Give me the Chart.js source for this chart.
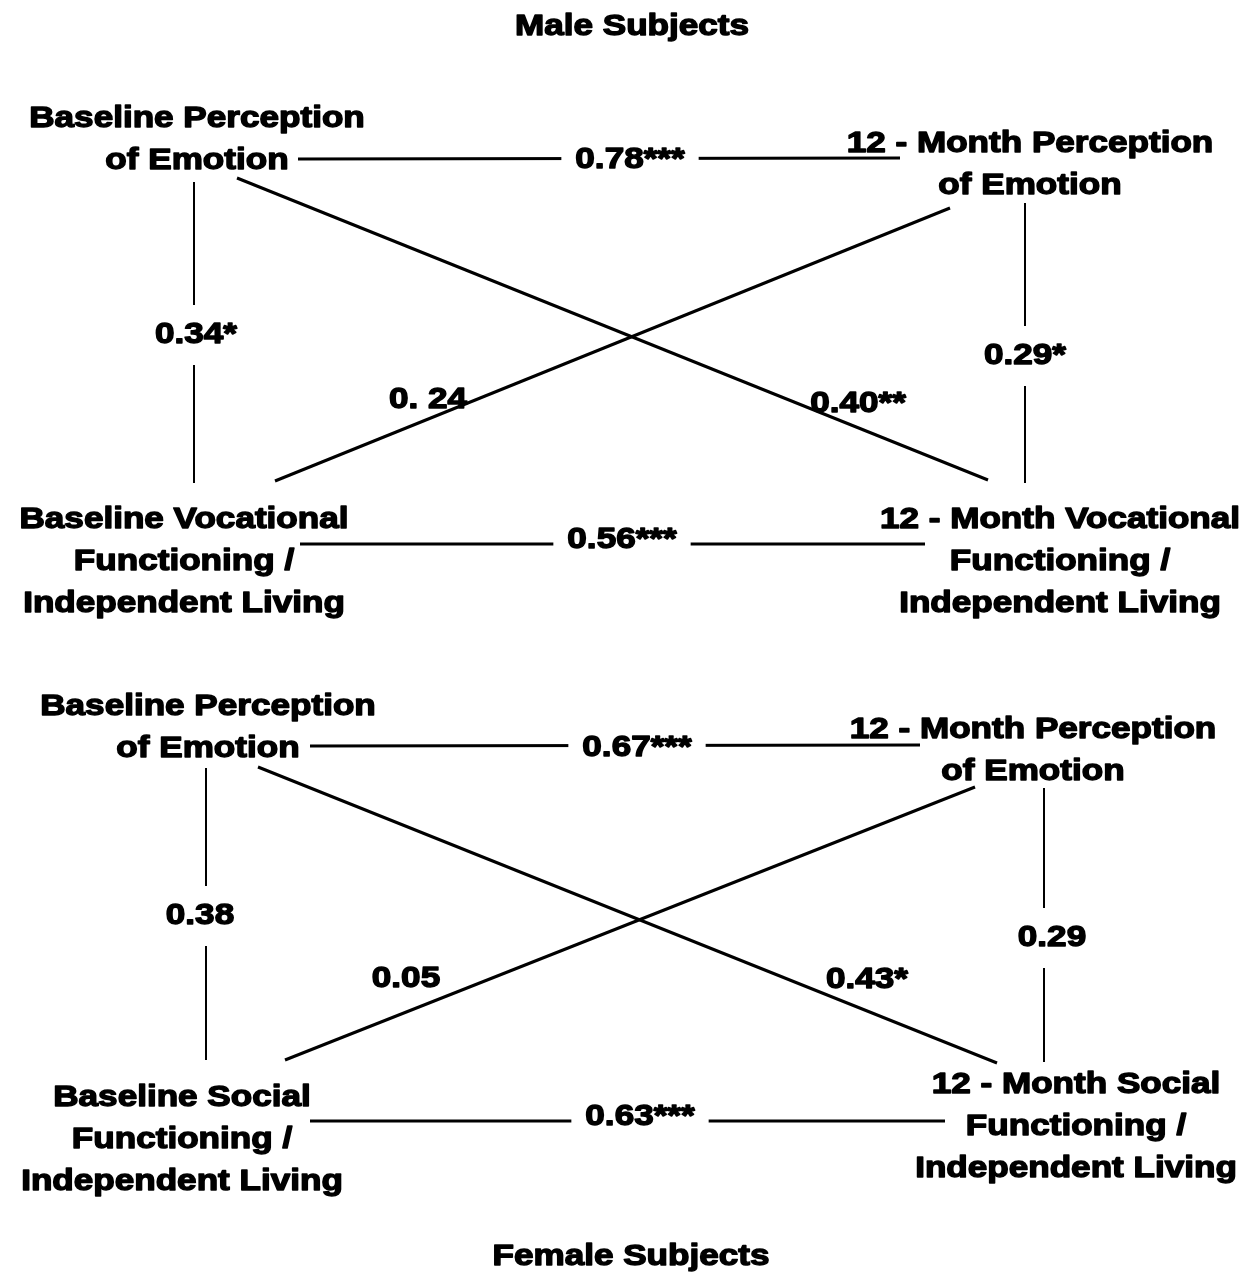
<!DOCTYPE html>
<html>
<head>
<meta charset="utf-8">
<script src="https://cdn.jsdelivr.net/npm/chart.js@4.4.1/dist/chart.umd.min.js"></script>
<style>
  html, body { margin: 0; background: #fff; }
  canvas { display: block; }
</style>
</head>
<body>
<canvas id="pathChart" width="1248" height="1277"></canvas>
<script>
// panel titles and node names
const panelTitles = ['Male Subjects', 'Female Subjects'];
const maleNodes = [
  ['Baseline Perception', 'of Emotion'],
  ['12 - Month Perception', 'of Emotion'],
  ['Baseline Vocational', 'Functioning /', 'Independent Living'],
  ['12 - Month Vocational', 'Functioning /', 'Independent Living']
];
const femaleNodes = [
  ['Baseline Perception', 'of Emotion'],
  ['12 - Month Perception', 'of Emotion'],
  ['Baseline Social', 'Functioning /', 'Independent Living'],
  ['12 - Month Social', 'Functioning /', 'Independent Living']
];
// path coefficients, one per edge (see edgePairs)
const maleCoefficients = ['0.78***', '0.34*', '0.29*', '0.40**', '0. 24', '0.56***'];
const femaleCoefficients = ['0.67***', '0.38', '0.29', '0.43*', '0.05', '0.63***'];
// edges as [from node, to node]
const edgePairs = [[0, 1], [0, 2], [1, 3], [0, 3], [2, 1], [2, 3]];

// layout only (diagram units = pixels of the 1248 x 1277 page)
const LINE_H = 42;
const layout = [
  {
    title: [632, 27],
    nodes: [[197, 119], [1030, 144], [184, 520], [1060, 520]],
    edges: [
      { a: [298, 159], b: [900, 158], label: [630, 160], gap: true },
      { a: [194, 182], b: [194, 483], label: [196, 335], gap: true, w: 2 },
      { a: [1025, 203], b: [1025, 483], label: [1025, 356], gap: true, w: 2 },
      { a: [237, 178], b: [988, 480], label: [858, 404] },
      { a: [275, 481], b: [950, 208], label: [428, 400] },
      { a: [300, 544], b: [925, 544], label: [622, 540], gap: true }
    ]
  },
  {
    title: [631, 1257],
    nodes: [[208, 707], [1033, 730], [182, 1098], [1076, 1085]],
    edges: [
      { a: [310, 746], b: [920, 745], label: [637, 748], gap: true },
      { a: [206, 768], b: [206, 1060], label: [200, 916], gap: true, w: 2 },
      { a: [1044, 788], b: [1044, 1062], label: [1052, 938], gap: true, w: 2 },
      { a: [258, 767], b: [997, 1063], label: [867, 980] },
      { a: [285, 1060], b: [975, 787], label: [406, 979] },
      { a: [310, 1121], b: [945, 1121], label: [640, 1117], gap: true }
    ]
  }
];

const panels = [
  { title: panelTitles[0], nodes: maleNodes, coefs: maleCoefficients, layout: layout[0] },
  { title: panelTitles[1], nodes: femaleNodes, coefs: femaleCoefficients, layout: layout[1] }
];

// the original lettering is a wide, heavy bold sans: stretch Arial-metric text
// sideways and thicken it with a thin stroke
const FONT = 'bold 30px "Liberation Sans", Arial, sans-serif';
const STRETCH = 1.17;
const HEAVY = 1.4;

const datasets = [];
panels.forEach((panel) => {
  edgePairs.forEach((pair, i) => {
    const e = panel.layout.edges[i];
    datasets.push({
      label: `${panel.nodes[pair[0]][0]} -> ${panel.nodes[pair[1]][0]}`,
      data: [{ x: e.a[0], y: e.a[1] }, { x: e.b[0], y: e.b[1] }],
      showLine: true,
      borderColor: '#000',
      borderWidth: e.w || 3,
      pointRadius: 0,
      fill: false
    });
  });
});

function wideText(ctx, text, x, y) {
  ctx.save();
  ctx.translate(x, y);
  ctx.scale(STRETCH, 1);
  ctx.fillText(text, 0, 0);
  ctx.lineWidth = HEAVY;
  ctx.lineJoin = 'round';
  ctx.strokeStyle = '#000';
  ctx.strokeText(text, 0, 0);
  ctx.restore();
}

const diagramText = {
  id: 'diagramText',
  afterDatasetsDraw(chart) {
    const { ctx, scales: { x, y } } = chart;
    const px = (v) => x.getPixelForValue(v);
    const py = (v) => y.getPixelForValue(v);
    ctx.save();
    ctx.font = FONT;
    ctx.fillStyle = '#000';
    ctx.textAlign = 'center';
    ctx.textBaseline = 'middle';

    panels.forEach((panel) => {
      wideText(ctx, panel.title, px(panel.layout.title[0]), py(panel.layout.title[1]));

      panel.nodes.forEach((lines, n) => {
        const [cx, cy] = panel.layout.nodes[n];
        lines.forEach((line, k) => wideText(ctx, line, px(cx), py(cy + k * LINE_H)));
      });

      panel.coefs.forEach((text, i) => {
        const e = panel.layout.edges[i];
        const lx = px(e.label[0]);
        const ly = py(e.label[1]);
        if (e.gap) {
          const w = ctx.measureText(text).width * STRETCH;
          const horizontal = Math.abs(e.a[1] - e.b[1]) < 3;
          const padX = horizontal ? 14 : 6;
          const padY = horizontal ? 4 : 16;
          ctx.fillStyle = '#fff';
          ctx.fillRect(lx - w / 2 - padX, ly - 14 - padY, w + padX * 2, 28 + padY * 2);
          ctx.fillStyle = '#000';
        }
        wideText(ctx, text, lx, ly);
      });
    });
    ctx.restore();
  }
};

new Chart(document.getElementById('pathChart'), {
  type: 'scatter',
  data: { datasets },
  options: {
    responsive: false,
    animation: false,
    layout: { padding: 0 },
    scales: {
      x: { type: 'linear', min: 0, max: 1248, display: false },
      y: { type: 'linear', min: 0, max: 1277, reverse: true, display: false }
    },
    plugins: { legend: { display: false }, tooltip: { enabled: false } },
    elements: { line: { tension: 0 } }
  },
  plugins: [diagramText]
});
</script>
</body>
</html>
